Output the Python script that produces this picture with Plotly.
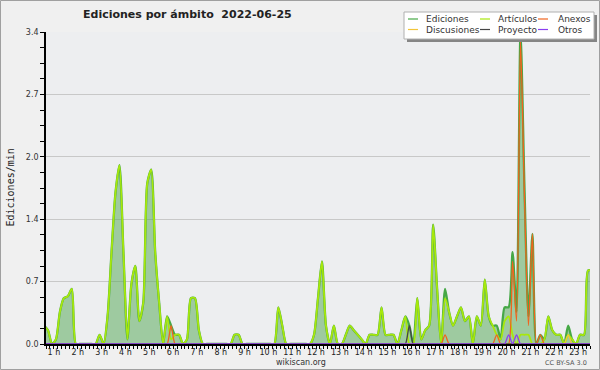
import pandas as pd
import plotly.graph_objects as go

# ---------------- data (10-minute bins, edits per minute) ----------------
times = pd.date_range("2022-06-25 00:35", periods=139, freq="10min")
hour_ticks = pd.date_range("2022-06-25 01:00", periods=23, freq="1h")
hour_labels = ["1 h", "2 h", "3 h", "4 h", "5 h", "6 h", "7 h", "8 h", "9 h", "10 h", "11 h", "12 h",
               "13 h", "14 h", "15 h", "16 h", "17 h", "18 h", "19 h", "20 h", "21 h", "22 h", "23 h"]
y_tickvals = [0, 0.68, 1.36, 2.04, 2.72, 3.4]
y_ticktext = ["0.0", "0.7", "1.4", "2.0", "2.7", "3.4"]

ediciones = [
    0.2, 0.15, 0, 0.05, 0.35, 0.5, 0.52, 0.6, 0, 0, 0, 0,
    0, 0, 0.1, 0, 0.3, 1.0, 1.65, 1.95, 1.0, 0.05, 0.65, 0.85,
    0.25, 0.45, 1.75, 1.9, 1.0, 0.45, 0, 0.3, 0.2, 0.1, 0.1, 0,
    0.05, 0.5, 0.5, 0.15, 0, 0, 0, 0, 0, 0, 0, 0,
    0.1, 0.1, 0, 0, 0, 0, 0, 0, 0, 0, 0, 0.4,
    0.2, 0, 0, 0, 0, 0, 0, 0, 0.1, 0.5, 0.9, 0.2,
    0, 0.2, 0, 0, 0.1, 0.2, 0.15, 0.1, 0.05, 0, 0.1, 0.1,
    0.1, 0.4, 0.1, 0.1, 0.1, 0, 0.15, 0.3, 0.2, 0, 0.5, 0.05,
    0.15, 0.2, 1.3, 0.6, 0, 0.6, 0.35, 0.2, 0.3, 0.4, 0.25, 0.3,
    0, 0.3, 0.2, 0.7, 0.3, 0.2, 0.2, 0.05, 0.4, 0.4, 1.0, 0.35,
    3.4, 1.7, 0.3, 1.2, 0, 0.1, 0.05, 0.3, 0.15, 0.1, 0.1, 0,
    0.2, 0.05, 0, 0.1, 0.1, 0.8, 0.8,
]
articulos = [
    0.2, 0.15, 0, 0.05, 0.35, 0.5, 0.52, 0.6, 0, 0, 0, 0,
    0, 0, 0.1, 0, 0.3, 1.0, 1.65, 1.95, 1.0, 0.05, 0.65, 0.85,
    0.25, 0.45, 1.75, 1.9, 1.0, 0.45, 0, 0.3, 0.05, 0.1, 0.1, 0,
    0.05, 0.5, 0.5, 0.15, 0, 0, 0, 0, 0, 0, 0, 0,
    0.1, 0.1, 0, 0, 0, 0, 0, 0, 0, 0, 0, 0.4,
    0.2, 0, 0, 0, 0, 0, 0, 0, 0.1, 0.5, 0.9, 0.2,
    0, 0.2, 0, 0, 0.1, 0.2, 0.15, 0.1, 0.05, 0, 0.1, 0.1,
    0.1, 0.4, 0.1, 0.1, 0.1, 0, 0.15, 0.3, 0, 0, 0.5, 0.05,
    0.15, 0.2, 1.3, 0.6, 0, 0.5, 0.35, 0.2, 0.3, 0.4, 0.25, 0.3,
    0, 0.3, 0.2, 0.7, 0.3, 0.2, 0.1, 0.05, 0.25, 0.3, 0.1, 0,
    0.1, 0.1, 0.1, 0, 0, 0, 0.05, 0.3, 0.15, 0.1, 0.1, 0,
    0.1, 0.05, 0, 0.1, 0.1, 0.8, 0.8,
]
anexos = [
    0, 0, 0, 0, 0, 0, 0, 0, 0, 0, 0, 0,
    0, 0, 0, 0, 0, 0, 0, 0, 0, 0, 0, 0,
    0, 0, 0, 0, 0, 0, 0, 0, 0.2, 0, 0, 0,
    0, 0, 0, 0, 0, 0, 0, 0, 0, 0, 0, 0,
    0, 0, 0, 0, 0, 0, 0, 0, 0, 0, 0, 0,
    0, 0, 0, 0, 0, 0, 0, 0, 0, 0, 0, 0,
    0, 0, 0, 0, 0, 0, 0, 0, 0, 0, 0, 0,
    0, 0, 0, 0, 0, 0, 0, 0, 0, 0, 0, 0,
    0, 0, 0, 0, 0, 0.1, 0, 0, 0, 0, 0, 0,
    0, 0, 0, 0, 0, 0, 0.1, 0, 0, 0, 0.9, 0.25,
    3.3, 1.6, 0.2, 1.2, 0, 0.1, 0, 0, 0, 0, 0, 0,
    0, 0, 0, 0, 0, 0, 0,
]
discusiones = [
    0, 0, 0, 0, 0, 0, 0, 0, 0, 0, 0, 0,
    0, 0, 0, 0, 0, 0, 0, 0, 0, 0, 0, 0,
    0, 0, 0, 0, 0, 0, 0, 0, 0, 0, 0, 0,
    0, 0, 0, 0, 0, 0, 0, 0, 0, 0, 0, 0,
    0, 0, 0, 0, 0, 0, 0, 0, 0, 0, 0, 0,
    0, 0, 0, 0, 0, 0, 0, 0, 0, 0, 0, 0,
    0, 0, 0, 0, 0, 0, 0, 0, 0, 0, 0, 0,
    0, 0, 0, 0, 0, 0, 0, 0, 0, 0, 0, 0,
    0, 0, 0, 0, 0, 0, 0, 0, 0, 0, 0, 0,
    0, 0, 0, 0, 0, 0, 0, 0, 0, 0, 0, 0,
    0, 0, 0, 0, 0, 0, 0, 0, 0, 0, 0, 0,
    0.1, 0, 0, 0, 0, 0, 0,
]
proyecto = [
    0, 0, 0, 0, 0, 0, 0, 0, 0, 0, 0, 0,
    0, 0, 0, 0, 0, 0, 0, 0, 0, 0, 0, 0,
    0, 0, 0, 0, 0, 0, 0, 0, 0, 0, 0, 0,
    0, 0, 0, 0, 0, 0, 0, 0, 0, 0, 0, 0,
    0, 0, 0, 0, 0, 0, 0, 0, 0, 0, 0, 0,
    0, 0, 0, 0, 0, 0, 0, 0, 0, 0, 0, 0,
    0, 0, 0, 0, 0, 0, 0, 0, 0, 0, 0, 0,
    0, 0, 0, 0, 0, 0, 0, 0, 0.2, 0, 0, 0,
    0, 0, 0, 0, 0, 0, 0, 0, 0, 0, 0, 0,
    0, 0, 0, 0, 0, 0, 0, 0, 0, 0, 0, 0,
    0, 0, 0, 0, 0, 0, 0, 0, 0, 0, 0, 0,
    0, 0, 0, 0, 0, 0, 0,
]
otros = [
    0, 0, 0, 0, 0, 0, 0, 0, 0, 0, 0, 0,
    0, 0, 0, 0, 0, 0, 0, 0, 0, 0, 0, 0,
    0, 0, 0, 0, 0, 0, 0, 0, 0, 0, 0, 0,
    0, 0, 0, 0, 0, 0, 0, 0, 0, 0, 0, 0,
    0, 0, 0, 0, 0, 0, 0, 0, 0, 0, 0, 0,
    0, 0, 0, 0, 0, 0, 0, 0, 0, 0, 0, 0,
    0, 0, 0, 0, 0, 0, 0, 0, 0, 0, 0, 0,
    0, 0, 0, 0, 0, 0, 0, 0, 0, 0, 0, 0,
    0, 0, 0, 0, 0, 0, 0, 0, 0, 0, 0, 0,
    0, 0, 0, 0, 0, 0, 0, 0, 0, 0.1, 0, 0.1,
    0, 0, 0, 0, 0, 0, 0, 0, 0, 0, 0, 0,
    0, 0, 0, 0, 0, 0, 0,
]

series_names = ["Ediciones", "Artículos", "Anexos", "Discusiones", "Proyecto", "Otros"]
series_colors = ["#46a846", "#a8e80c", "#f0641e", "#f2c53a", "#454545", "#8a3ff0"]

# ---------------- geometry helpers ----------------
W, H = 600, 370
ML, MR, MT, MB = 46, 10, 32, 26
PW, PH = W - ML - MR, H - MT - MB


def px(x):
    return (x - ML) / PW


def py(y):
    return (H - MB - y) / PH


FONT = "DejaVu Sans"
SM = 0.7

fig = go.Figure()
fig.add_trace(go.Scatter(
    x=times, y=ediciones, name=series_names[0], mode="lines",
    line=dict(color=series_colors[0], width=2.3, shape="spline", smoothing=SM),
    fill="tozeroy", fillcolor="rgba(80,165,80,0.5)", showlegend=False))
fig.add_trace(go.Scatter(
    x=times, y=articulos, name=series_names[1], mode="lines",
    line=dict(color=series_colors[1], width=1.8, shape="spline", smoothing=SM), showlegend=False))
for vals, nm, col in [(anexos, series_names[2], series_colors[2]),
                      (discusiones, series_names[3], series_colors[3]),
                      (proyecto, series_names[4], series_colors[4]),
                      (otros, series_names[5], series_colors[5])]:
    fig.add_trace(go.Scatter(
        x=times, y=vals, name=nm, mode="lines",
        line=dict(color=col, width=1.3, shape="spline", smoothing=SM), showlegend=False))

fig.update_layout(
    width=W, height=H, autosize=False,
    margin=dict(l=ML, r=MR, t=MT, b=MB, pad=0),
    paper_bgcolor="#f0f0f0", plot_bgcolor="#edeef0",
    font=dict(family=FONT, size=8, color="#222222"),
    xaxis=dict(
        type="date",
        range=["2022-06-25 00:40", "2022-06-25 23:30"],
        tickmode="array", tickvals=hour_ticks, ticktext=hour_labels,
        ticks="outside", ticklen=3, tickwidth=1, tickcolor="#000000",
        ticklabelstandoff=-3,
        showline=True, linecolor="#000000", linewidth=1.6,
        showgrid=False, zeroline=False,
        tickfont=dict(family=FONT, size=8, color="#222222"),
        minor=dict(ticks="outside", ticklen=3, tickwidth=1, tickcolor="#000000",
                   dtick=600000, tick0="2022-06-25 00:00", showgrid=False),
    ),
    yaxis=dict(
        range=[0, 3.4],
        tickmode="array", tickvals=y_tickvals, ticktext=y_ticktext,
        ticks="outside", ticklen=4, tickwidth=1, tickcolor="#000000",
        showline=True, linecolor="#000000", linewidth=1.6,
        showgrid=True, gridcolor="#c8c8c8", gridwidth=1, zeroline=False,
        tickfont=dict(family=FONT, size=8, color="#333333"),
        minor=dict(ticks="outside", ticklen=4, tickwidth=1, tickcolor="#000000",
                   dtick=0.17, tick0=0, showgrid=False),
    ),
)

shapes = []
annotations = []

# outer border
shapes.append(dict(type="rect", xref="paper", yref="paper",
                   x0=px(0.5), x1=px(599.5), y0=py(0.5), y1=py(369.5),
                   line=dict(color="#a0a0a0", width=1), fillcolor="rgba(0,0,0,0)", layer="above"))

# legend box with shadow
shapes.append(dict(type="rect", xref="paper", yref="paper",
                   x0=px(407), x1=px(597), y0=py(15), y1=py(42),
                   line=dict(width=0), fillcolor="#858585", layer="above"))
shapes.append(dict(type="rect", xref="paper", yref="paper",
                   x0=px(404), x1=px(594), y0=py(12), y1=py(39),
                   line=dict(color="#b0b0b0", width=1), fillcolor="#ffffff", layer="above"))

leg_cols = [(408, 424), (480, 496), (538, 556)]
leg_rows = [19, 29.5]
for k, (nm, col) in enumerate(zip(series_names, series_colors)):
    r, c = divmod(k, 3)
    lx, tx = leg_cols[c]
    yy = leg_rows[r]
    shapes.append(dict(type="line", xref="paper", yref="paper",
                       x0=px(lx), x1=px(lx + 10), y0=py(yy), y1=py(yy),
                       line=dict(color=col, width=1.2), layer="above"))
    annotations.append(dict(xref="paper", yref="paper", x=px(tx), y=py(yy),
                            text=nm, showarrow=False, xanchor="left", yanchor="middle",
                            font=dict(family=FONT, size=9, color="#333333")))

# title
annotations.append(dict(xref="paper", yref="paper", x=px(187.5), y=py(15),
                        text="<b>Ediciones por ámbito\u00a0 2022-06-25</b>", showarrow=False,
                        xanchor="center", yanchor="middle",
                        font=dict(family=FONT, size=11, color="#222222")))
# y-axis title
annotations.append(dict(xref="paper", yref="paper", x=px(9.5), y=py(188),
                        text="Ediciones/min", showarrow=False, textangle=-90,
                        xanchor="center", yanchor="middle",
                        font=dict(family="DejaVu Sans Mono", size=10, color="#222222")))
# footer texts
annotations.append(dict(xref="paper", yref="paper", x=px(301), y=py(362),
                        text="wikiscan.org", showarrow=False, xanchor="center", yanchor="middle",
                        font=dict(family=FONT, size=8, color="#333333")))
annotations.append(dict(xref="paper", yref="paper", x=px(589), y=py(362.5),
                        text="CC BY-SA 3.0", showarrow=False, xanchor="right", yanchor="middle",
                        font=dict(family=FONT, size=6.5, color="#555555")))

fig.update_layout(shapes=shapes, annotations=annotations)

fig.write_html("out.html",
               config={"displayModeBar": False, "responsive": False},
               post_script="document.body.style.margin='0px';document.body.style.padding='0px';"
                           "document.body.style.overflow='hidden';")
